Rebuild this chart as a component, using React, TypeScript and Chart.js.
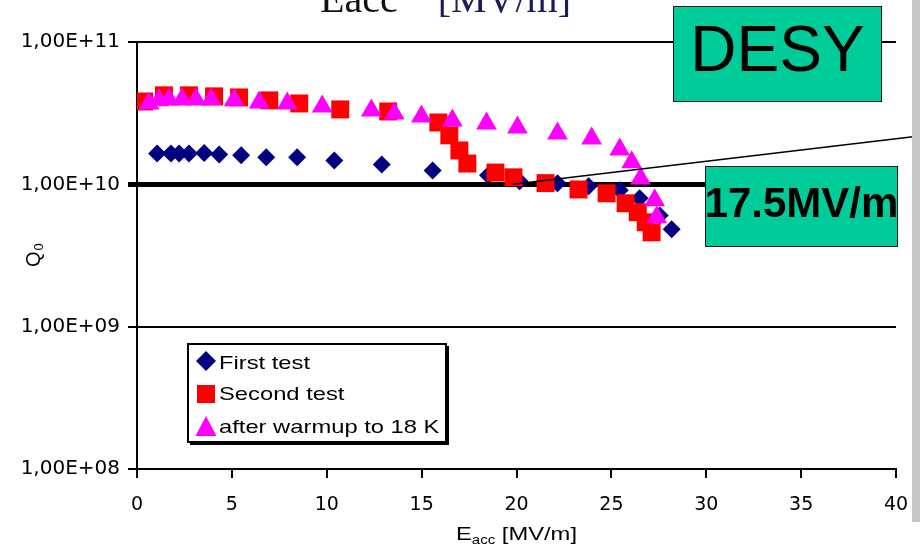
import React, { useEffect, useRef } from "react";
import { Chart, registerables } from "chart.js";

Chart.register(...registerables);

// ---------- data ----------
const seriesNames = ["First test", "Second test", "after warmup to 18 K"];

const firstTestE = [1.06, 1.79, 2.22, 2.74, 3.54, 4.33, 5.49, 6.81, 8.44, 10.4, 12.9, 15.58, 18.5, 20.16, 22.16, 23.8, 25.44, 26.49, 27.55, 28.18];
const firstTestQ = [1.65e10, 1.65e10, 1.65e10, 1.65e10, 1.66e10, 1.62e10, 1.6e10, 1.55e10, 1.55e10, 1.47e10, 1.38e10, 1.25e10, 1.16e10, 1.05e10, 1.016e10, 0.968e10, 0.908e10, 0.798e10, 0.605e10, 0.483e10];

const secondTestE = [0.37, 1.42, 2.74, 4.06, 5.38, 6.97, 8.55, 10.71, 13.24, 15.88, 16.46, 16.99, 17.41, 18.89, 19.84, 21.53, 23.27, 24.75, 25.75, 26.39, 26.81, 27.12];
const secondTestQ = [3.82e10, 4.22e10, 4.22e10, 4.15e10, 4.08e10, 3.89e10, 3.7e10, 3.36e10, 3.25e10, 2.72e10, 2.21e10, 1.73e10, 1.4e10, 1.21e10, 1.12e10, 1.02e10, 0.92e10, 0.865e10, 0.736e10, 0.637e10, 0.541e10, 0.46e10];

const warmupE = [0.63, 1.16, 1.69, 2.37, 3.11, 3.91, 5.12, 6.44, 7.92, 9.76, 12.35, 13.56, 14.99, 16.62, 18.42, 20.05, 22.16, 23.96, 25.44, 26.07, 26.54, 27.28, 27.39];
const warmupQ = [3.7e10, 3.89e10, 3.95e10, 3.95e10, 3.95e10, 3.95e10, 3.89e10, 3.76e10, 3.7e10, 3.52e10, 3.3e10, 3.15e10, 3.0e10, 2.81e10, 2.68e10, 2.51e10, 2.28e10, 2.1e10, 1.76e10, 1.43e10, 1.1e10, 0.773e10, 0.587e10];

const xMin = 0;
const xMax = 40;
const xStep = 5;
const yTickValues = [1e8, 1e9, 1e10, 1e11];
const yTickLabels = ["1,00E+08", "1,00E+09", "1,00E+10", "1,00E+11"];
const thresholdQ = 1e10;

// annotation pointer line (data coordinates)
const pointerFrom = [19.8, 1e10];
const pointerTo = [41.0, 2.17e10];

const seriesColors = ["#000080", "#FF0000", "#FF00FF"];
const seriesShapes = ["rectRot", "rect", "triangle"];

// ---------- helpers ----------
function stretchedText(ctx: CanvasRenderingContext2D, text: string, x: number, y: number, font: string, sx: number) {
  ctx.save();
  ctx.font = font;
  ctx.translate(x, y);
  ctx.scale(sx, 1);
  ctx.fillText(text, 0, 0);
  const w = ctx.measureText(text).width * sx;
  ctx.restore();
  return w;
}

function drawMarker(ctx: CanvasRenderingContext2D, shape: string, cx: number, cy: number, color: string) {
  ctx.save();
  ctx.fillStyle = color;
  ctx.beginPath();
  if (shape === "rectRot") {
    const r = 10;
    ctx.moveTo(cx - r, cy);
    ctx.lineTo(cx, cy - r);
    ctx.lineTo(cx + r, cy);
    ctx.lineTo(cx, cy + r);
  } else if (shape === "rect") {
    ctx.rect(cx - 9, cy - 9, 18, 18);
  } else {
    ctx.moveTo(cx, cy - 11);
    ctx.lineTo(cx + 10.5, cy + 9);
    ctx.lineTo(cx - 10.5, cy + 9);
  }
  ctx.closePath();
  ctx.fill();
  ctx.restore();
}

const overlayPlugin = {
  id: "overlayPlugin",
  afterDraw(chart: any) {
    const ctx: CanvasRenderingContext2D = chart.ctx;
    const xs = chart.scales.x;
    const ys = chart.scales.y;

    // pointer line
    ctx.save();
    ctx.strokeStyle = "#000";
    ctx.lineWidth = 1.5;
    ctx.beginPath();
    ctx.moveTo(xs.getPixelForValue(pointerFrom[0]), ys.getPixelForValue(pointerFrom[1]));
    ctx.lineTo(xs.getPixelForValue(pointerTo[0]), ys.getPixelForValue(pointerTo[1]));
    ctx.stroke();
    ctx.restore();

    // legend box
    ctx.save();
    ctx.fillStyle = "#fff";
    ctx.fillRect(187, 343, 260, 100);
    ctx.fillStyle = "#000";
    ctx.fillRect(190, 442, 259, 3);
    ctx.fillRect(446, 346, 3, 99);
    ctx.strokeStyle = "#000";
    ctx.lineWidth = 2;
    ctx.strokeRect(188, 344, 258, 98);
    const rowMarkerY = [361, 394, 427];
    const rowTextY = [369, 400, 433];
    ctx.fillStyle = "#000";
    ctx.textBaseline = "alphabetic";
    ctx.textAlign = "left";
    seriesNames.forEach((name, i) => {
      drawMarker(ctx, seriesShapes[i], 206, rowMarkerY[i], seriesColors[i]);
      ctx.fillStyle = "#000";
      stretchedText(ctx, name, 219, rowTextY[i], "19px 'Liberation Sans', Arial, sans-serif", 1.25);
    });
    ctx.restore();

    // x axis title: E_acc [MV/m]
    ctx.save();
    ctx.fillStyle = "#000";
    ctx.textAlign = "left";
    ctx.textBaseline = "alphabetic";
    const cx = (chart.chartArea.left + chart.chartArea.right) / 2;
    const mainFont = "19px 'Liberation Sans', Arial, sans-serif";
    const subFont = "12px 'Liberation Sans', Arial, sans-serif";
    ctx.font = mainFont;
    const wE = ctx.measureText("E").width * 1.25;
    const wRest = ctx.measureText(" [MV/m]").width * 1.25;
    ctx.font = subFont;
    const wSub = ctx.measureText("acc").width * 1.25;
    let x0 = cx - (wE + wSub + wRest) / 2;
    x0 += stretchedText(ctx, "E", x0, 540, mainFont, 1.25);
    x0 += stretchedText(ctx, "acc", x0, 544, subFont, 1.25);
    stretchedText(ctx, " [MV/m]", x0, 540, mainFont, 1.25);
    ctx.restore();

    // y axis title: Q_0 (rotated)
    ctx.save();
    ctx.fillStyle = "#000";
    ctx.translate(40, 267);
    ctx.rotate(-Math.PI / 2);
    ctx.textAlign = "left";
    ctx.textBaseline = "alphabetic";
    ctx.font = "20px 'Liberation Sans', Arial, sans-serif";
    ctx.fillText("Q", 0, 0);
    const wQ = ctx.measureText("Q").width;
    ctx.font = "13px 'Liberation Sans', Arial, sans-serif";
    ctx.fillText("0", wQ + 1, 3);
    ctx.restore();
  },
};

export default function App() {
  const canvasRef = useRef<HTMLCanvasElement>(null);

  useEffect(() => {
    const canvas = canvasRef.current;
    if (!canvas) return;
    const mk = (xsArr: number[], ysArr: number[]) => xsArr.map((x, i) => ({ x, y: ysArr[i] }));
    const chart = new Chart(canvas, {
      type: "scatter",
      data: {
        datasets: [
          {
            label: seriesNames[0],
            data: mk(firstTestE, firstTestQ),
            pointStyle: "rectRot",
            pointRadius: 9,
            backgroundColor: seriesColors[0],
            borderColor: seriesColors[0],
            borderWidth: 0,
            order: 3,
          },
          {
            label: seriesNames[1],
            data: mk(secondTestE, secondTestQ),
            pointStyle: "rect",
            pointRadius: 12.7,
            backgroundColor: seriesColors[1],
            borderColor: seriesColors[1],
            borderWidth: 0,
            order: 2,
          },
          {
            label: seriesNames[2],
            data: mk(warmupE, warmupQ),
            pointStyle: "triangle",
            pointRadius: 12,
            backgroundColor: seriesColors[2],
            borderColor: seriesColors[2],
            borderWidth: 0,
            order: 1,
          },
        ],
      } as any,
      options: {
        responsive: false,
        animation: false,
        devicePixelRatio: 1,
        layout: { padding: { top: 42, right: 24, left: 0, bottom: 0 } },
        plugins: {
          legend: { display: false },
          tooltip: { enabled: false },
          title: { display: false },
        },
        scales: {
          x: {
            type: "linear",
            min: xMin,
            max: xMax,
            ticks: {
              stepSize: xStep,
              color: "#000",
              font: { family: "'DejaVu Sans', sans-serif", size: 19 },
              padding: 16,
              maxRotation: 0,
            },
            grid: {
              drawOnChartArea: false,
              drawTicks: true,
              tickLength: 9,
              color: "#000",
              lineWidth: 2,
            },
            border: { display: true, color: "#000", width: 2 },
            afterFit: (s: any) => {
              s.height = 85;
              s.paddingLeft = 0;
              s.paddingRight = 0;
            },
          },
          y: {
            type: "logarithmic",
            min: yTickValues[0],
            max: yTickValues[yTickValues.length - 1],
            afterBuildTicks: (s: any) => {
              s.ticks = yTickValues.map((v) => ({ value: v, major: true }));
            },
            ticks: {
              color: "#000",
              font: { family: "'DejaVu Sans', sans-serif", size: 20 },
              padding: 8,
              callback: (v: any) => {
                const i = yTickValues.findIndex((t) => Math.abs(t - Number(v)) / t < 1e-6);
                return i >= 0 ? yTickLabels[i] : "";
              },
            },
            grid: {
              color: "#000",
              lineWidth: (c: any) => (c.tick && c.tick.value === thresholdQ ? 5 : 2),
              tickLength: 9,
            },
            border: { display: true, color: "#000", width: 2 },
            afterFit: (s: any) => {
              s.width = 137;
              s.paddingTop = 0;
              s.paddingBottom = 0;
            },
          },
        },
      } as any,
      plugins: [overlayPlugin as any],
    });
    return () => chart.destroy();
  }, []);

  const boxStyle: React.CSSProperties = {
    position: "absolute",
    background: "#00CC99",
    border: "1.5px solid #1a1a1a",
    boxSizing: "border-box",
    display: "flex",
    alignItems: "center",
    justifyContent: "center",
    color: "#000",
    fontFamily: "'Liberation Sans', Arial, sans-serif",
    whiteSpace: "nowrap",
  };

  return (
    <div
      style={{
        position: "fixed",
        left: 0,
        top: 0,
        width: 920,
        height: 554,
        background: "#fff",
        overflow: "hidden",
      }}
    >
      <canvas
        ref={canvasRef}
        width={920}
        height={554}
        style={{ position: "absolute", left: 0, top: 0, width: 920, height: 554 }}
      />
      <div
        style={{
          position: "absolute",
          left: 320,
          top: -21,
          fontFamily: "'Liberation Serif', 'Times New Roman', serif",
          fontSize: 40,
          lineHeight: "40px",
          whiteSpace: "pre",
          color: "#111",
        }}
      >
        Eacc{"    "}
        <span style={{ color: "#1c1c5c" }}>[MV/m]</span>
      </div>
      <div style={{ ...boxStyle, left: 673, top: 6, width: 209, height: 96, fontSize: 64, paddingBottom: 11 }}>
        DESY
      </div>
      <div
        style={{
          ...boxStyle,
          left: 705,
          top: 166,
          width: 193,
          height: 81,
          fontSize: 42,
          fontWeight: "bold",
          paddingBottom: 8,
        }}
      >
        17.5MV/m
      </div>
      <div style={{ position: "absolute", left: 912, top: 0, width: 8, height: 522, background: "#c8c8c8" }} />
    </div>
  );
}
